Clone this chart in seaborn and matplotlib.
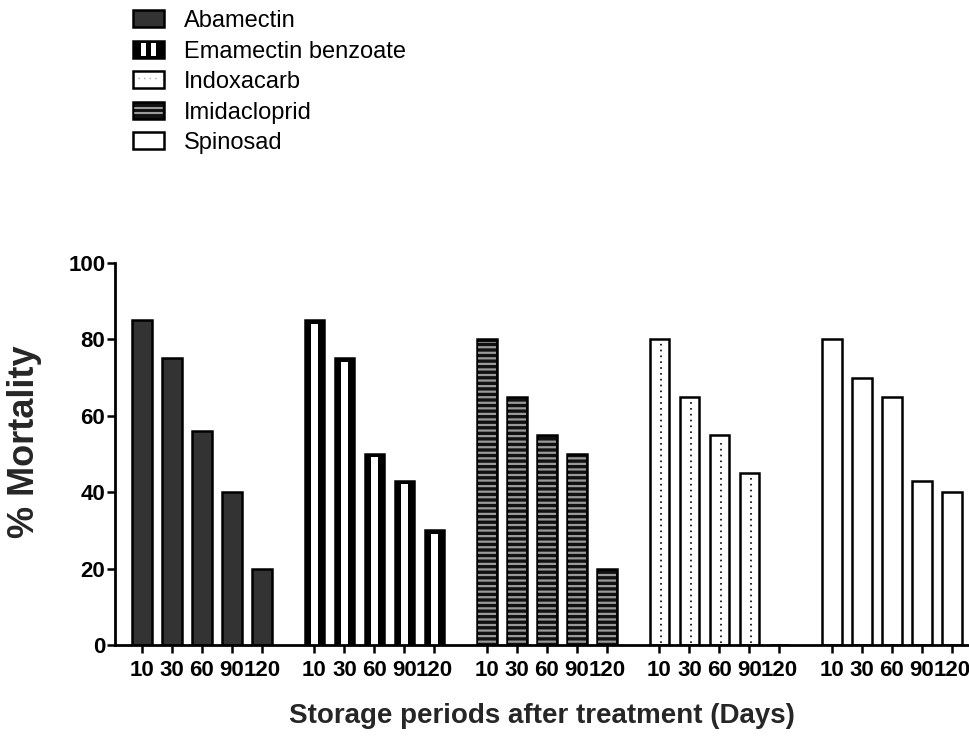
import numpy as np
import pandas as pd
import matplotlib
matplotlib.use("Agg")
import matplotlib.pyplot as plt
import seaborn as sns
from matplotlib.patches import Patch, Rectangle
from matplotlib.legend_handler import HandlerBase
from matplotlib.lines import Line2D

# ---------------- data ----------------
days = ["10", "30", "60", "90", "120"]
plot_order = ["Abamectin", "Emamectin benzoate", "Imidacloprid", "Indoxacarb", "Spinosad"]
legend_order = ["Abamectin", "Emamectin benzoate", "Indoxacarb", "Imidacloprid", "Spinosad"]
abamectin = [85, 75, 56, 40, 20]
emamectin = [85, 75, 50, 43, 30]
imidacloprid = [80, 65, 55, 50, 20]
indoxacarb = [80, 65, 55, 45, 0]
spinosad = [80, 70, 65, 43, 40]
values = {
    "Abamectin": abamectin,
    "Emamectin benzoate": emamectin,
    "Imidacloprid": imidacloprid,
    "Indoxacarb": indoxacarb,
    "Spinosad": spinosad,
}

GROUP_STEP = 5.75
rows = []
for g, name in enumerate(plot_order):
    for i, (d, v) in enumerate(zip(days, values[name])):
        rows.append(dict(insecticide=name, day=d, pos=g * GROUP_STEP + i, mortality=v))
df = pd.DataFrame(rows)

# ---------------- style ----------------
sns.set_theme(style="ticks")
plt.rcParams["font.family"] = ["Liberation Sans", "DejaVu Sans"]
plt.rcParams["hatch.linewidth"] = 1.6
plt.rcParams["text.color"] = "black"

W, H = 970, 751
fig = plt.figure(figsize=(W / 100, H / 100), dpi=100)
ax = fig.add_axes([115 / W, 1 - 645 / H, (969 - 115) / W, (645 - 263) / H])

LW = 1.8
BW = 0.66
faces = {
    "Abamectin": "#333333",
    "Emamectin benzoate": "black",
    "Imidacloprid": "#111111",
    "Indoxacarb": "white",
    "Spinosad": "white",
}
for name in plot_order:
    sub = df[df.insecticide == name]
    sns.barplot(data=sub, x="pos", y="mortality", native_scale=True,
                color=faces[name], saturation=1, edgecolor="black",
                linewidth=LW, width=BW, errorbar=None, ax=ax, zorder=2)

# Emamectin: white centre stripe
sub = df[df.insecticide == "Emamectin benzoate"]
ax.bar(sub.pos, sub.mortality - 0.9, width=0.21, color="white", lw=0, zorder=3)
# Imidacloprid: grey horizontal stripes
sub = df[df.insecticide == "Imidacloprid"]
ax.bar(sub.pos, sub.mortality - 0.8, width=BW - 0.06, facecolor="none",
       edgecolor="#9a9a9a", hatch="---", lw=0, zorder=3)
# Indoxacarb: dotted centre line
sub = df[df.insecticide == "Indoxacarb"]
sub = sub[sub.mortality > 0]
ax.vlines(sub.pos + 0.05, 0.5, sub.mortality - 1, colors="black",
          linestyles=(0, (1, 2.5)), lw=1.2, zorder=3)

# ---------------- axes ----------------
ax.set_xlim(-0.9, 27.57)
ax.set_ylim(0, 100)
ax.set_yticks(range(0, 101, 20))
ax.set_xticks(df.pos)
ax.set_xticklabels(df.day)
for s in ["top", "right"]:
    ax.spines[s].set_visible(False)
for s in ["left", "bottom"]:
    ax.spines[s].set_color("black")
    ax.spines[s].set_linewidth(2.0)
    ax.spines[s].set_zorder(4)
ax.tick_params(axis="both", direction="out", length=6, width=1.8, color="black",
               labelsize=16, labelcolor="black")
ax.tick_params(axis="x", pad=5)
ax.tick_params(axis="y", pad=1)
for lab in ax.get_xticklabels() + ax.get_yticklabels():
    lab.set_fontweight("bold")

ax.set_xlabel("Storage periods after treatment (Days)", fontsize=20, fontweight="bold")
ax.set_ylabel("% Mortality", fontsize=26, fontweight="bold")
ax.xaxis.set_label_coords(0.5, -0.152)
ax.yaxis.set_label_coords(-0.085, 0.531)

# ---------------- legend ----------------
class SwatchHandler(HandlerBase):
    def __init__(self, kind):
        super().__init__()
        self.kind = kind

    def create_artists(self, legend, orig_handle, xdescent, ydescent, width, height, fontsize, trans):
        x0, y0 = -xdescent, -ydescent
        arts = []
        if self.kind == "Abamectin":
            arts.append(Rectangle((x0, y0), width, height, facecolor="#333333", edgecolor="black", lw=LW, transform=trans))
        elif self.kind == "Emamectin benzoate":
            arts.append(Rectangle((x0, y0), width, height, facecolor="black", edgecolor="black", lw=LW, transform=trans))
            for f in (0.26, 0.6):
                arts.append(Rectangle((x0 + f * width, y0 + 0.1 * height), 0.16 * width, 0.8 * height,
                                      facecolor="white", lw=0, transform=trans))
        elif self.kind == "Indoxacarb":
            arts.append(Rectangle((x0, y0), width, height, facecolor="white", edgecolor="black", lw=LW, transform=trans))
            arts.append(Line2D([x0 + 0.15 * width, x0 + 0.85 * width], [y0 + 0.6 * height] * 2,
                               color="#aaaaaa", lw=1, linestyle=(0, (1, 3)), transform=trans))
        elif self.kind == "Imidacloprid":
            arts.append(Rectangle((x0, y0), width, height, facecolor="#111111", edgecolor="black", lw=LW, transform=trans))
            for f in (0.35, 0.65):
                arts.append(Line2D([x0 + 0.05 * width, x0 + 0.95 * width], [y0 + f * height] * 2,
                                   color="#9a9a9a", lw=1.5, transform=trans))
        else:
            arts.append(Rectangle((x0, y0), width, height, facecolor="white", edgecolor="black", lw=LW, transform=trans))
        return arts

handles = [Patch(label=n) for n in legend_order]
hmap = {h: SwatchHandler(n) for h, n in zip(handles, legend_order)}
fig.legend(handles=handles, labels=legend_order, handler_map=hmap,
           loc="upper left", bbox_to_anchor=(133 / W, 1 - 10 / H),
           frameon=False, fontsize=17, borderpad=0, borderaxespad=0,
           handlelength=1.3, handleheight=0.7, handletextpad=0.85, labelspacing=0.36)

fig.savefig("out.png", dpi=100)
